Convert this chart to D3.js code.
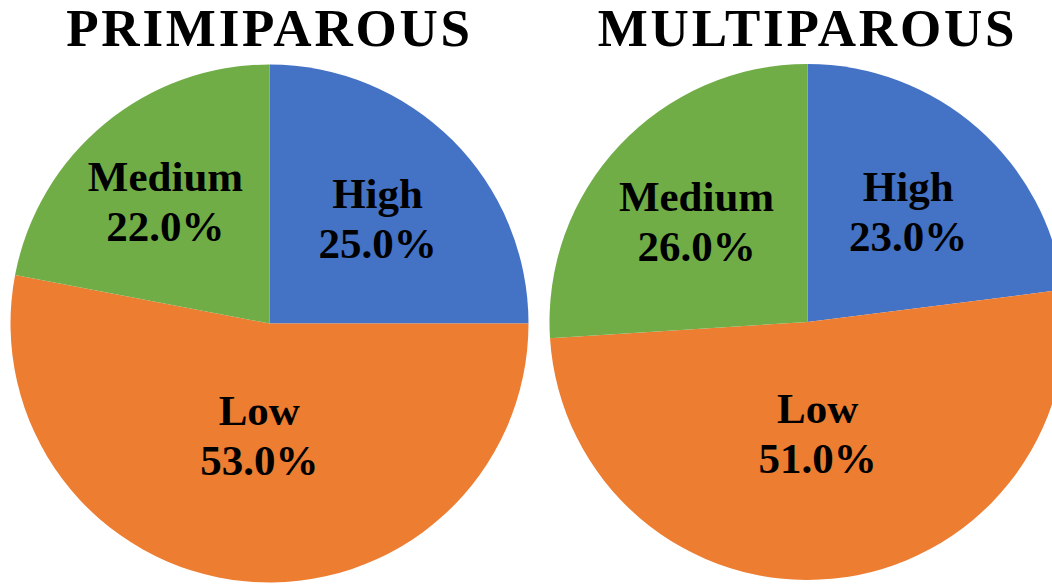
<!DOCTYPE html>
<html>
<head>
<meta charset="utf-8">
<script src="https://cdn.jsdelivr.net/npm/d3@7"></script>
<style>
  html, body { margin: 0; padding: 0; background: #ffffff; }
  svg { display: block; }
</style>
</head>
<body>
<svg id="chart" width="1052" height="584"></svg>
<script>
// Risk level shares by parity group
const categories = ["High", "Low", "Medium"];
const primiparousValues = [25.0, 53.0, 22.0];
const multiparousValues = [23.0, 51.0, 26.0];
const groupTitles = ["PRIMIPAROUS", "MULTIPAROUS"];

const colors = d3.scaleOrdinal()
  .domain(categories)
  .range(["#4472C4", "#ED7D31", "#70AD47"]);

const svg = d3.select("#chart");

// label distance from centre, as a share of the radius (best-fit placement)
const panels = [
  { title: groupTitles[0], values: primiparousValues, cx: 269.5, cy: 323.5, r: 259,
    labelRadius: { High: 0.59, Low: 0.42, Medium: 0.63 } },
  { title: groupTitles[1], values: multiparousValues, cx: 807.5, cy: 322, r: 258,
    labelRadius: { High: 0.59, Low: 0.42, Medium: 0.59 } }
];

const pie = d3.pie().sort(null).value(d => d.value);

panels.forEach(p => {
  const data = categories.map((c, i) => ({ category: c, value: p.values[i] }));
  const arcs = pie(data);
  const arc = d3.arc().innerRadius(0).outerRadius(p.r);

  const g = svg.append("g").attr("transform", `translate(${p.cx},${p.cy})`);

  g.selectAll("path")
    .data(arcs)
    .join("path")
    .attr("d", arc)
    .attr("fill", d => colors(d.data.category));

  const labels = g.selectAll("text.label")
    .data(arcs)
    .join("text")
    .attr("class", "label")
    .attr("transform", d => {
      const a = (d.startAngle + d.endAngle) / 2;
      const rr = p.r * p.labelRadius[d.data.category];
      return `translate(${Math.sin(a) * rr},${-Math.cos(a) * rr})`;
    })
    .attr("text-anchor", "middle")
    .style("font-family", "'Liberation Serif', 'Times New Roman', serif")
    .style("font-weight", "bold")
    .style("font-size", "43px")
    .style("fill", "#000");

  labels.append("tspan").attr("x", 0).attr("y", -7).text(d => d.data.category);
  labels.append("tspan").attr("x", 0).attr("y", 43).text(d => d3.format(".1f")(d.data.value) + "%");

  svg.append("text")
    .attr("x", p.cx)
    .attr("y", 46)
    .attr("text-anchor", "middle")
    .style("font-family", "'Liberation Serif', 'Times New Roman', serif")
    .style("font-weight", "bold")
    .style("font-size", "53px")
    .style("letter-spacing", "2.8px")
    .style("fill", "#000")
    .text(p.title);
});
</script>
</body>
</html>
